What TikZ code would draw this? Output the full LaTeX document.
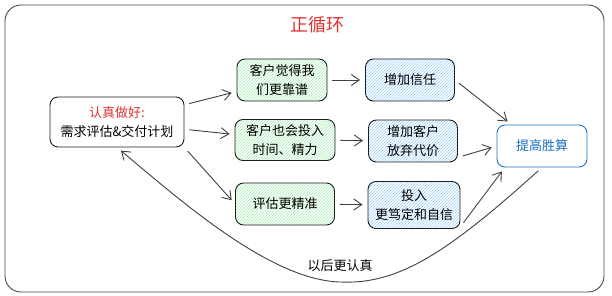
\documentclass[tikz,border=0pt]{standalone}
\usepackage{fontspec}
\setmainfont{Noto Sans CJK SC}
\usetikzlibrary{arrows.meta, patterns, calc}
\definecolor{inkred}{HTML}{E03131}
\definecolor{inkblue}{HTML}{1971C2}
\definecolor{ink}{HTML}{1E1E1E}
\definecolor{hatchgreen}{HTML}{A3EBAE}
\definecolor{hatchblue}{HTML}{99D0FD}

\tikzset{
  box/.style={draw=ink, line width=0.9pt, rounded corners=8pt, align=center,
    font=\fontsize{13}{19}\selectfont, inner sep=2pt},
  greenbox/.style={box, pattern=north east lines, pattern color=hatchgreen},
  bluebox/.style={box, pattern=north east lines, pattern color=hatchblue},
  flow/.style={-{Straight Barb[length=8pt,width=11pt]}, draw=ink!85,
    line width=0.9pt, shorten <=5pt, shorten >=5pt},
}

\begin{document}
\begin{tikzpicture}[x=1pt, y=-1pt]
    \useasboundingbox (0,0) rectangle (612,296);

    % Frame and title
    \draw[ink!80, line width=0.9pt, rounded corners=16pt] (5,5) rectangle (604,292);
    \node[text=inkred, font=\fontsize{18}{20}\selectfont] (title) at (317,25) {正循环};

    % Start
    \node[box, minimum width=134pt, minimum height=50pt] (plan) at (117,122)
        {\textcolor{inkred}{认真做好:}\\需求评估\&交付计划};

    % Effects on the customer side
    \node[greenbox, minimum width=90pt, minimum height=42pt] (reliable) at (282,80) {客户觉得我\\们更靠谱};
    \node[greenbox, minimum width=100pt, minimum height=41pt] (invest) at (285,140) {客户也会投入\\时间、精力};
    \node[greenbox, minimum width=99pt, minimum height=42pt] (precise) at (285,204) {评估更精准};

    % Results
    \node[bluebox, minimum width=89pt, minimum height=42pt] (trust) at (410,80) {增加信任};
    \node[bluebox, minimum width=89pt, minimum height=42pt] (cost) at (413,141) {增加客户\\放弃代价};
    \node[bluebox, minimum width=92pt, minimum height=47pt] (confident) at (414,205) {投入\\更笃定和自信};

    % Goal
    \node[box, draw=inkblue, text=inkblue, fill=white, minimum width=90pt, minimum height=42pt] (goal) at (542,146) {提高胜算};

    % Arrows
    \draw[flow] (plan) -- (reliable);
    \draw[flow] (plan) -- (invest);
    \draw[flow] (plan.south east) -- (precise.west);
    \draw[flow] (reliable) -- (trust);
    \draw[flow] (invest) -- (cost);
    \draw[flow] (precise) -- (confident);
    \draw[flow] (trust.east) -- ($(goal.north west)+(15,0)$);
    \draw[flow] (cost.-20) -- (goal.west);
    \draw[flow] (confident.-25) -- (goal.-150);

    % Loop back
    \coordinate (bottom) at (340,282);
    \node[font=\fontsize{13}{15}\selectfont] (again) at (340,266) {以后更认真};
    \draw[flow] (goal.south) .. controls (450,250) and (400,285) .. (bottom)
        .. controls (270,280) and (180,200) .. (plan.south);
\end{tikzpicture}
\end{document}
